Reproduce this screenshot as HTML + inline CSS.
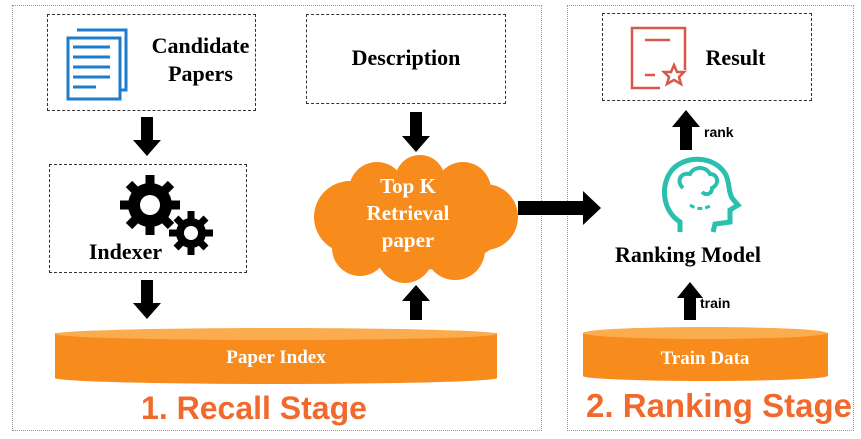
<!DOCTYPE html>
<html><head><style>
body{margin:0;width:861px;height:439px;background:#fff;position:relative;overflow:hidden;font-family:"Liberation Serif",serif;}
.ab{position:absolute;}
.dash{position:absolute;border:1.3px dashed #333;}
.outer{position:absolute;border:1px dotted #999;}
.t{position:absolute;font-weight:bold;color:#000;text-align:center;}
</style></head><body>
<div class="outer" style="left:12px;top:5px;width:528px;height:424px"></div>
<div class="outer" style="left:567px;top:5px;width:285px;height:424px"></div>
<div class="dash" style="left:47px;top:14px;width:207px;height:95px"></div>
<div class="dash" style="left:306px;top:14px;width:198px;height:88px"></div>
<div class="dash" style="left:49px;top:164px;width:196px;height:107px"></div>
<div class="dash" style="left:602px;top:13px;width:208px;height:86px"></div>
<div class="t" style="left:138px;top:32px;width:125px;font-size:22px;line-height:28px">Candidate<br>Papers</div>
<div class="t" style="left:306px;top:45px;width:200px;font-size:22px">Description</div>
<div class="t" style="left:78px;top:239px;width:95px;font-size:22px">Indexer</div>
<div class="t" style="left:688px;top:45px;width:95px;font-size:22px">Result</div>
<div class="t" style="left:598px;top:242px;width:180px;font-size:22px">Ranking Model</div>
<svg class="ab" style="left:0;top:0" width="861" height="439">
<g fill="none" stroke="#1e7ccc" stroke-width="3">
<polyline points="77,30 126,30 126,90 121,90"/>
<rect x="68" y="38" width="52" height="61"/>
<line x1="73" y1="47" x2="110" y2="47"/><line x1="73" y1="57" x2="110" y2="57"/><line x1="73" y1="67" x2="110" y2="67"/><line x1="73" y1="77" x2="110" y2="77"/><line x1="73" y1="87" x2="96" y2="87"/>
</g>
<g fill="#000">
<circle cx="150" cy="205" r="22"/>
<g stroke="#000" stroke-width="9">
<line x1="150" y1="175" x2="150" y2="235"/><line x1="120" y1="205" x2="180" y2="205"/>
<line x1="129" y1="184" x2="171" y2="226"/><line x1="171" y1="184" x2="129" y2="226"/></g>
<circle cx="191" cy="233" r="15"/>
<g stroke="#000" stroke-width="7">
<line x1="191" y1="211" x2="191" y2="255"/><line x1="169" y1="233" x2="213" y2="233"/>
<line x1="176" y1="218" x2="206" y2="248"/><line x1="206" y1="218" x2="176" y2="248"/></g>
</g>
<circle cx="150" cy="205" r="10" fill="#fff"/><circle cx="191" cy="233" r="7" fill="#fff"/>
<g fill="#000">
<polygon points="141,117 153,117 153,140 161,140 147,156 133,140 141,140"/>
<polygon points="141,280 153,280 153,303 161,303 147,319 133,303 141,303"/>
<polygon points="410,112 422,112 422,136 430,136 416,152 402,136 410,136"/>
<polygon points="410,320 422,320 422,301 430,301 416,285 402,301 410,301"/>
<polygon points="518,201 583,201 583,191 601,208 583,225 583,215 518,215"/>
<polygon points="680,150 692,150 692,127 700,127 686,110 672,127 680,127"/>
<polygon points="684,320 696,320 696,298 703,298 690,282 677,298 684,298"/>
</g>
<g fill="#f78b1b">
<ellipse cx="415" cy="222" rx="92" ry="48"/>
<circle cx="350" cy="217" r="36"/><circle cx="377" cy="190" r="28"/><circle cx="420" cy="180" r="25"/><circle cx="463" cy="190" r="28"/><circle cx="485" cy="217" r="33"/><circle cx="455" cy="250" r="30"/><circle cx="405" cy="255" r="28"/><circle cx="360" cy="248" r="28"/>
</g>
<g font-weight="bold" font-size="21" fill="#fff" text-anchor="middle" font-family="Liberation Serif,serif">
<text x="408" y="193">Top K</text><text x="408" y="220">Retrieval</text><text x="408" y="247">paper</text>
</g>
<rect x="55" y="333" width="442" height="45" fill="#f78b1b"/>
<ellipse cx="276" cy="378" rx="221" ry="6" fill="#f78b1b"/>
<ellipse cx="276" cy="334" rx="221" ry="6" fill="#fbac4e"/>
<text x="276" y="363" font-weight="bold" font-size="19" fill="#fff" text-anchor="middle" font-family="Liberation Serif,serif">Paper Index</text>
<rect x="583" y="333" width="245" height="43" fill="#f78b1b"/>
<ellipse cx="705" cy="376" rx="122" ry="5" fill="#f78b1b"/>
<ellipse cx="705" cy="333" rx="122" ry="6" fill="#fbac4e"/>
<text x="705" y="364" font-weight="bold" font-size="19" fill="#fff" text-anchor="middle" font-family="Liberation Serif,serif">Train Data</text>
<g font-weight="bold" fill="#ef6a2c" text-anchor="middle" font-family="Liberation Sans,sans-serif">
<text x="254" y="419" font-size="32">1. Recall Stage</text><text x="719" y="417" font-size="33">2. Ranking Stage</text>
</g>
<g font-weight="bold" font-size="14" font-family="Liberation Sans,sans-serif">
<text x="704" y="137">rank</text><text x="700" y="308">train</text>
</g>
<g fill="none" stroke="#d5584a" stroke-width="2.5">
<path d="M660,88 L632,88 L632,28 L685,28 L685,70"/>
<line x1="645" y1="40" x2="670" y2="40"/><line x1="645" y1="75" x2="655" y2="75"/>
<polygon points="674,65 677,72 684,72 679,77 681,84 674,80 667,84 669,77 664,72 671,72"/>
</g>
<g fill="none" stroke="#2bbfae" stroke-width="5">
<path d="M680,232 L680,222 C662,210 660,185 672,170 C685,155 715,155 726,175 C730,185 728,190 732,198 L738,205 L730,210 L730,222 L715,224 L713,232"/>
<path d="M683,188 C676,182 680,172 690,174 C694,166 706,166 710,174 C718,174 720,184 712,188 C712,194 706,196 702,192" stroke-width="4"/>
<path d="M690,205 Q700,212 712,205" stroke-dasharray="5,3" stroke-width="3"/>
</g>
</svg>
</body></html>
